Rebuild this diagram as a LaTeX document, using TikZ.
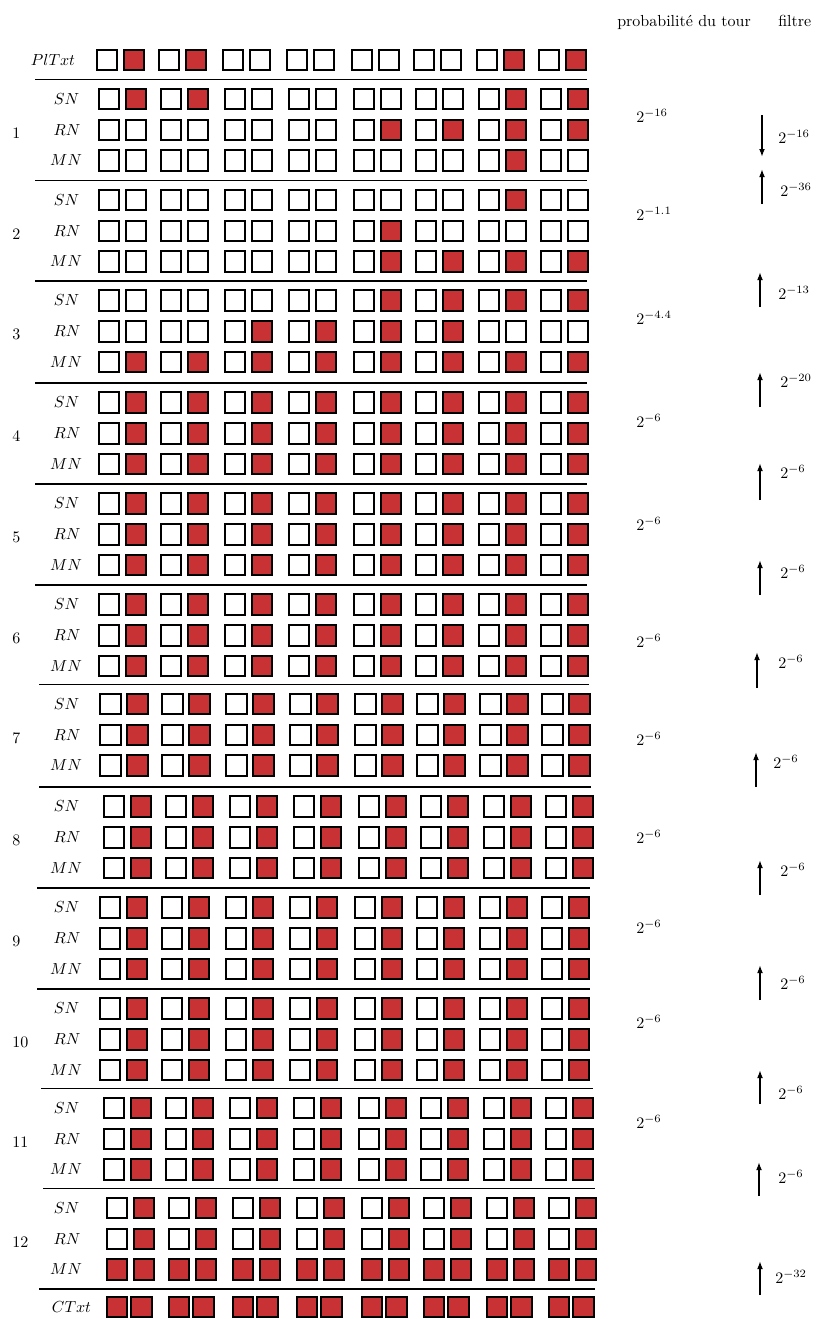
\documentclass[tikz,border=0pt]{standalone}
\usetikzlibrary{arrows.meta}
\definecolor{cellred}{RGB}{200,50,52}
\tikzset{
  sq/.style={draw=black,line width=1.25pt,minimum size=12.8pt,inner sep=0pt,outer sep=0pt},
  rowlab/.style={inner sep=0pt},
  roundlab/.style={inner sep=0pt,anchor=west},
  sepline/.style={line width=1.2pt},
  prob/.style={inner sep=0pt,anchor=base west},
  filt/.style={-{Latex[length=5pt,width=3.6pt]},line width=0.9pt},
}
\def\allR{0/1,0/1,0/1,0/1,0/1,0/1,0/1,0/1}
\def\allB{1/1,1/1,1/1,1/1,1/1,1/1,1/1,1/1}
% #1 name, #2 x0, #3 y, #4 offset of second square, #5 flags
\newcommand\cellrow[5]{%
  \foreach \lf/\rf [count=\i] in #5 {
    \pgfmathsetmacro\off{{0,62,126,190,255,317,380,442}[\i-1]}
    \ifnum\lf=1 \def\fa{cellred}\else\def\fa{white}\fi
    \ifnum\rf=1 \def\fb{cellred}\else\def\fb{white}\fi
    \node[sq,fill=\fa] (#1-\i-a) at (#2+\off+11,#3) {};
    \node[sq,fill=\fb] (#1-\i-b) at (#2+\off+#4+11,#3) {};
  }%
}
% #1 round, #2 x0, #3 top, #4 SN, #5 RN, #6 MN
\newcommand\roundblock[6]{%
  \node[roundlab] (rnd#1) at (12,#3+53.5) {#1};
  \node[rowlab] (sn#1) at (66.5,#3+19.5) {$SN$};
  \node[rowlab] (rn#1) at (67,#3+50.5) {$RN$};
  \node[rowlab] (mn#1) at (66,#3+81) {$MN$};
  \cellrow{s#1}{#2}{#3+19.5}{27}{#4}
  \cellrow{r#1}{#2}{#3+50.5}{27}{#5}
  \cellrow{m#1}{#2}{#3+81}{27}{#6}
}
\begin{document}
\begin{tikzpicture}[x=0.625pt,y=-0.625pt]
\useasboundingbox (0,0) rectangle (817,1319);
% headers
\node[prob] (hprob) at (617,26) {probabilit\'e du tour};
\node[prob] (hfilt) at (778,26) {filtre};
% plaintext
\node[rowlab] (pl) at (53,60) {$PlTxt$};
\cellrow{pt}{96}{60}{27}{{0/1,0/1,0/0,0/0,0/0,0/0,0/1,0/1}}
% separators
\draw[sepline] (35,79.5) -- (587,79.5);
\draw[sepline] (35,180.5) -- (587,180.5);
\draw[sepline] (35,281) -- (587,281);
\draw[sepline] (35,383) -- (587,383);
\draw[sepline] (35,484) -- (587,484);
\draw[sepline] (35,585) -- (587,585);
\draw[sepline] (39,684.5) -- (589,684.5);
\draw[sepline] (39,787) -- (591,787);
\draw[sepline] (37,888) -- (590,888);
\draw[sepline] (37,989) -- (590,989);
\draw[sepline] (41,1088.5) -- (593,1088.5);
\draw[sepline] (43,1188.5) -- (595,1188.5);
\draw[sepline] (39,1289) -- (595,1289);
% rounds
\roundblock{1}{98}{79.5}{{0/1,0/1,0/0,0/0,0/0,0/0,0/1,0/1}}{{0/0,0/0,0/0,0/0,0/1,0/1,0/1,0/1}}{{0/0,0/0,0/0,0/0,0/0,0/0,0/1,0/0}}
\roundblock{2}{98}{180.5}{{0/0,0/0,0/0,0/0,0/0,0/0,0/1,0/0}}{{0/0,0/0,0/0,0/0,0/1,0/0,0/0,0/0}}{{0/0,0/0,0/0,0/0,0/1,0/1,0/1,0/1}}
\roundblock{3}{98}{281}{{0/0,0/0,0/0,0/0,0/1,0/1,0/1,0/1}}{{0/0,0/0,0/1,0/1,0/1,0/1,0/0,0/0}}{\allR}
\roundblock{4}{98}{383}{\allR}{\allR}{\allR}
\roundblock{5}{98}{484}{\allR}{\allR}{\allR}
\roundblock{6}{98}{585}{\allR}{\allR}{\allR}
\roundblock{7}{99.5}{684.5}{\allR}{\allR}{\allR}
\roundblock{8}{103}{787}{\allR}{\allR}{\allR}
\roundblock{9}{99}{888}{\allR}{\allR}{\allR}
\roundblock{10}{99}{989}{\allR}{\allR}{\allR}
\roundblock{11}{103}{1088.5}{\allR}{\allR}{\allR}
\roundblock{12}{106}{1188.5}{\allR}{\allR}{\allB}
% ciphertext
\node[rowlab] (ct) at (71.5,1307) {$CTxt$};
\cellrow{ct}{106}{1307}{24.5}{\allB}
% round probabilities
\node[prob] (p1) at (636,122) {$2^{-16}$};
\node[prob] (p2) at (636,220) {$2^{-1.1}$};
\node[prob] (p3) at (636,324) {$2^{-4.4}$};
\node[prob] (p4) at (636,427) {$2^{-6}$};
\node[prob] (p5) at (636,530) {$2^{-6}$};
\node[prob] (p6) at (636,647) {$2^{-6}$};
\node[prob] (p7) at (636,745) {$2^{-6}$};
\node[prob] (p8) at (636,843) {$2^{-6}$};
\node[prob] (p9) at (636,933) {$2^{-6}$};
\node[prob] (p10) at (636,1028) {$2^{-6}$};
\node[prob] (p11) at (636,1128) {$2^{-6}$};
% filter arrows
\coordinate (a1s) at (762,115); \coordinate (a1e) at (762,157);
\coordinate (a2s) at (762,204); \coordinate (a2e) at (762,169);
\coordinate (a3s) at (760,307); \coordinate (a3e) at (760,272);
\coordinate (a4s) at (760,407); \coordinate (a4e) at (760,372);
\coordinate (a5s) at (760,500); \coordinate (a5e) at (760,463);
\coordinate (a6s) at (760,595); \coordinate (a6e) at (760,560);
\coordinate (a7s) at (757,688); \coordinate (a7e) at (757,652);
\coordinate (a8s) at (756,787); \coordinate (a8e) at (756,752);
\coordinate (a9s) at (760,895); \coordinate (a9e) at (760,860);
\coordinate (a10s) at (760,1000); \coordinate (a10e) at (760,965);
\coordinate (a11s) at (760,1104); \coordinate (a11e) at (760,1070);
\coordinate (a12s) at (759,1196); \coordinate (a12e) at (759,1162);
\coordinate (a13s) at (760,1295); \coordinate (a13e) at (760,1261);
\foreach \k in {1,...,13} {\draw[filt] (a\k s) -- (a\k e);}
% filter labels
\node[prob] (f1) at (778,143) {$2^{-16}$};
\node[prob] (f2) at (780,196) {$2^{-36}$};
\node[prob] (f3) at (778,299) {$2^{-13}$};
\node[prob] (f4) at (780,387) {$2^{-20}$};
\node[prob] (f5) at (780,478) {$2^{-6}$};
\node[prob] (f6) at (780,578) {$2^{-6}$};
\node[prob] (f7) at (778,668) {$2^{-6}$};
\node[prob] (f8) at (773,768) {$2^{-6}$};
\node[prob] (f9) at (780,876) {$2^{-6}$};
\node[prob] (f10) at (780,989) {$2^{-6}$};
\node[prob] (f11) at (778,1099) {$2^{-6}$};
\node[prob] (f12) at (778,1183) {$2^{-6}$};
\node[prob] (f13) at (775,1283) {$2^{-32}$};
\end{tikzpicture}
\end{document}
